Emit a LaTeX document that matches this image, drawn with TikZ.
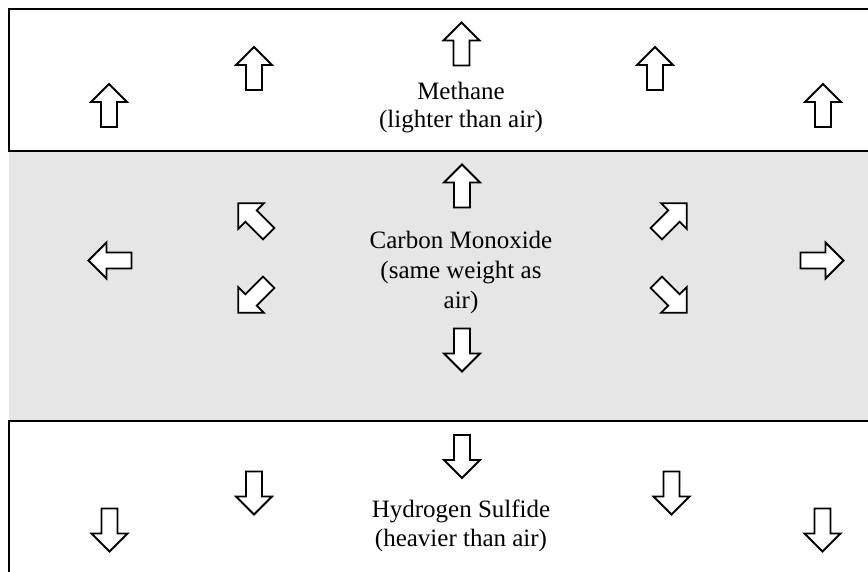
\documentclass[tikz,border=0pt]{standalone}
\usepackage{fontspec}
\setmainfont{Liberation Serif}
\definecolor{bandgray}{HTML}{E6E6E6}
\tikzset{
  border/.style={line width=2pt, line cap=rect},
  lbl/.style={align=center, inner sep=0pt},
  blockarrow/.pic={
    \draw[line width=1.8pt, fill=white, line join=miter]
      (0,-21.5) -- (18,-3.5) -- (8,-3.5) -- (8,21.5) -- (-8,21.5)
      -- (-8,-3.5) -- (-18,-3.5) -- cycle;
  }
}
\begin{document}
\begin{tikzpicture}[x=1pt,y=-1pt]
\useasboundingbox (0,0) rectangle (868,571);
% gray band
\fill[bandgray] (9,152) rectangle (868,421);
% top box
\draw[border] (868,9) -- (9,9) -- (9,151) -- (868,151);
% bottom box
\draw[border] (868,421) -- (9,421) -- (9,575);

% top arrows (up)
\pic at (109,105.5) {blockarrow};
\pic at (254,68.5) {blockarrow};
\pic at (461.5,44) {blockarrow};
\pic at (655,68.5) {blockarrow};
\pic at (823,105.5) {blockarrow};

% middle arrows
\pic at (462,186) {blockarrow};
\pic[rotate=180] at (462,350) {blockarrow};
\pic[rotate=90] at (110,260.5) {blockarrow};
\pic[rotate=-90] at (822,260.5) {blockarrow};
\pic[rotate=45] at (253.5,218.5) {blockarrow};
\pic[rotate=135] at (253.5,297.5) {blockarrow};
\pic[rotate=-45] at (671.5,218.5) {blockarrow};
\pic[rotate=-135] at (671.5,297.5) {blockarrow};

% bottom arrows (down)
\pic[rotate=180] at (109.5,530) {blockarrow};
\pic[rotate=180] at (254,493) {blockarrow};
\pic[rotate=180] at (462,456.5) {blockarrow};
\pic[rotate=180] at (671.5,493) {blockarrow};
\pic[rotate=180] at (822.5,530) {blockarrow};

% labels
\node[lbl, font=\fontsize{25}{28}\selectfont] (methane) at (461,107.2) {Methane\\(lighter than air)};
\node[lbl, font=\fontsize{25}{30}\selectfont] (co) at (461,272.2) {Carbon Monoxide\\(same weight as\\air)};
\node[lbl, font=\fontsize{25}{29}\selectfont] (hs) at (461,525.7) {Hydrogen Sulfide\\(heavier than air)};
\end{tikzpicture}
\end{document}
